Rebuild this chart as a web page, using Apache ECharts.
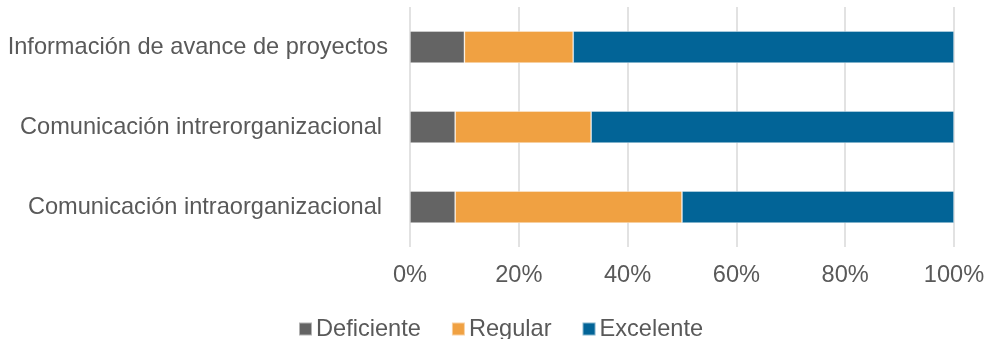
<!DOCTYPE html>
<html>
<head>
<meta charset="utf-8">
<script src="https://cdn.jsdelivr.net/npm/echarts@6/dist/echarts.min.js"></script>
<style>html,body{margin:0;padding:0;background:#fff;}#c{width:985px;height:339px;}</style>
</head>
<body>
<div id="c"></div>
<script>
const categories = ["Información de avance de proyectos", "Comunicación intrerorganizacional", "Comunicación intraorganizacional"];
const seriesNames = ["Deficiente", "Regular", "Excelente"];
const deficiente = [10, 8.3, 8.3];
const regular = [20, 25, 41.7];
const excelente = [70, 66.7, 50];
const xTicks = [0, 20, 40, 60, 80, 100];
const colors = ["#646464", "#F0A142", "#026497"];

const chart = echarts.init(document.getElementById('c'));
const font = "'Liberation Sans', Arial, sans-serif";
const valuesList = [deficiente, regular, excelente];
const labelPad = [0, 6, 6];
chart.setOption({
  animation: false,
  textStyle: { fontFamily: font },
  grid: { left: 410, right: 31, top: 7, bottom: 92, containLabel: false, outerBoundsMode: 'none' },
  legend: {
    bottom: -7, left: 293,
    data: seriesNames,
    itemWidth: 13, itemHeight: 13, itemGap: 30,
    icon: 'rect',
    textStyle: { fontSize: 23.6, color: '#595959', fontFamily: font, padding: [0, 0, 0, -1] }
  },
  xAxis: {
    type: 'value', min: xTicks[0], max: xTicks[xTicks.length - 1], interval: 20,
    axisLine: { show: false }, axisTick: { show: false },
    splitLine: { show: true, lineStyle: { color: '#d9d9d9', width: 1.5 } },
    axisLabel: { formatter: '{value}%', fontSize: 23.6, color: '#595959', margin: 16, fontFamily: font }
  },
  yAxis: {
    type: 'category', inverse: true,
    data: categories.map((c, i) => ({ value: c, textStyle: { padding: [0, labelPad[i], 0, 0] } })),
    axisLine: { show: false }, axisTick: { show: false },
    axisLabel: { fontSize: 23.6, color: '#595959', margin: 22, fontFamily: font }
  },
  series: seriesNames.map((n, i) => ({
    name: n, type: 'bar', stack: 'total', barWidth: '40%',
    data: valuesList[i],
    itemStyle: { color: colors[i], borderColor: 'rgba(255,255,255,0.5)', borderWidth: 0.75 }
  }))
});
</script>
</body>
</html>
